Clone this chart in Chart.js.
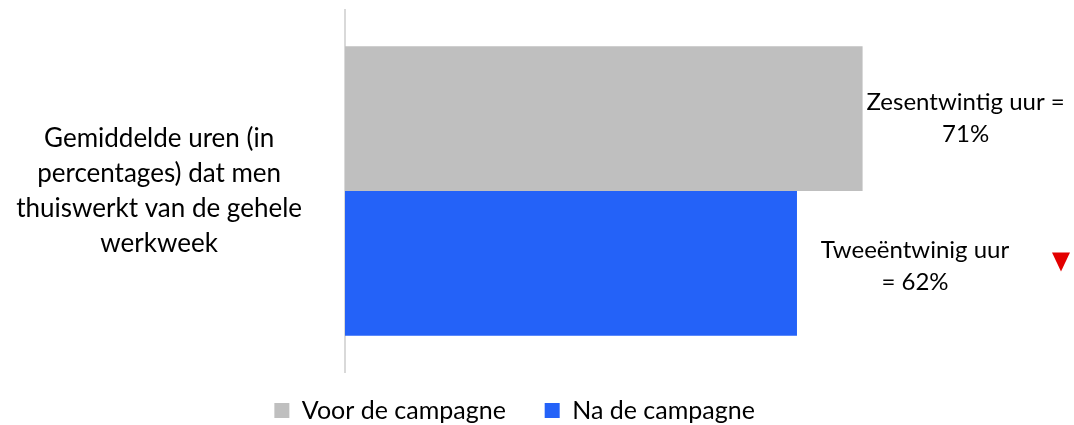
<!DOCTYPE html>
<html>
<head>
<meta charset="utf-8">
<script src="https://cdn.jsdelivr.net/npm/chart.js@4/dist/chart.umd.min.js"></script>
<style>
  html, body { margin: 0; padding: 0; background: #fff; }
  #wrap { width: 1074px; height: 425px; }
</style>
</head>
<body>
<div id="wrap"><canvas id="chart"></canvas></div>
<script>
// data
var categories = [['Gemiddelde uren (in', 'percentages) dat men', 'thuiswerkt van de gehele', 'werkweek']];
var seriesNames = ['Voor de campagne', 'Na de campagne'];
var voorValues = [71];
var naValues = [62];
var barLabels = [['Zesentwintig uur =', '71%'], ['Tweeëntwinig uur', '= 62%']];

var fontName = 'Lato, "Open Sans", sans-serif';

// draws the text next to each bar and the red down marker
var barTextPlugin = {
  id: 'barText',
  afterDatasetsDraw: function(chart) {
    var ctx = chart.ctx;
    var shift = [103, 118];
    var lift = [16, 13];
    ctx.save();
    ctx.font = '24px ' + fontName;
    ctx.fillStyle = '#000';
    ctx.textAlign = 'center';
    ctx.textBaseline = 'middle';
    chart.data.datasets.forEach(function(ds, i) {
      var bar = chart.getDatasetMeta(i).data[0];
      var lines = barLabels[i];
      for (var k = 0; k < lines.length; k++) {
        ctx.fillText(lines[k], bar.x + shift[i], bar.y - lift[i] + k * 32);
      }
    });
    // red triangle for the drop
    var blue = chart.getDatasetMeta(1).data[0];
    var cx = 1061, cy = blue.y - 2;
    ctx.fillStyle = '#e30000';
    ctx.beginPath();
    ctx.moveTo(cx - 9, cy - 9);
    ctx.lineTo(cx + 9, cy - 9);
    ctx.lineTo(cx, cy + 10);
    ctx.closePath();
    ctx.fill();
    ctx.restore();
  }
};

var ctx = document.getElementById('chart').getContext('2d');
var myChart = new Chart(ctx, {
  type: 'bar',
  data: {
    labels: categories,
    datasets: [{
      label: seriesNames[0],
      data: voorValues,
      backgroundColor: '#bfbfbf',
      barPercentage: 1,
      categoryPercentage: 0.8
    }, {
      label: seriesNames[1],
      data: naValues,
      backgroundColor: '#2462f8',
      barPercentage: 1,
      categoryPercentage: 0.8
    }]
  },
  options: {
    indexAxis: 'y',
    responsive: true,
    maintainAspectRatio: false,
    animation: false,
    layout: { padding: { top: 10, bottom: -8, left: 0, right: 0 } },
    scales: {
      x: {
        display: false,
        min: 0,
        max: 100
      },
      y: {
        afterFit: function(scale) {
          scale.width = 345;
          scale.paddingTop = 0;
          scale.paddingBottom = 0;
        },
        grid: { display: false, drawTicks: false },
        border: { display: true, color: '#d9d9d9', width: 2 },
        ticks: {
          crossAlign: 'center',
          padding: 43,
          color: '#000',
          font: { family: fontName, size: 26, lineHeight: '35px' }
        }
      }
    },
    plugins: {
      legend: {
        position: 'bottom',
        labels: {
          boxWidth: 15,
          boxHeight: 15,
          padding: 26,
          color: '#000',
          font: { family: fontName, size: 25 },
          generateLabels: function(chart) {
            var items = Chart.defaults.plugins.legend.labels.generateLabels(chart);
            // wider gap after the first item and legend sitting a bit left, as in the original
            items[0].text = items[0].text + '\u00a0\u00a0';
            items[1].text = items[1].text + '\u00a0\u00a0\u00a0\u00a0\u00a0\u00a0\u00a0';
            return items;
          }
        }
      },
      tooltip: { enabled: false }
    }
  },
  plugins: [barTextPlugin]
});
</script>
</body>
</html>
